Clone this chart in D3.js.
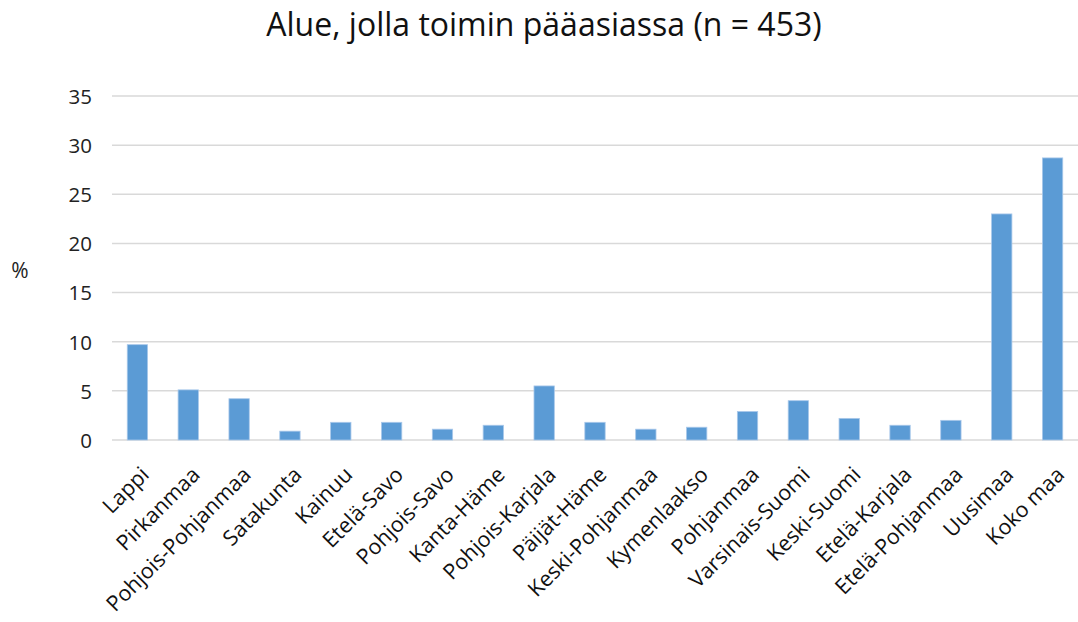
<!DOCTYPE html>
<html>
<head>
<meta charset="utf-8">
<script src="https://cdn.jsdelivr.net/npm/d3@7"></script>
<style>
  html, body { margin: 0; padding: 0; background: #fff; }
  svg { display: block; font-family: "Open Sans", "Noto Sans", sans-serif; }
</style>
</head>
<body>
<svg id="chart" width="1078" height="622"></svg>
<script>
const categories = ["Lappi","Pirkanmaa","Pohjois-Pohjanmaa","Satakunta","Kainuu","Etelä-Savo","Pohjois-Savo","Kanta-Häme","Pohjois-Karjala","Päijät-Häme","Keski-Pohjanmaa","Kymenlaakso","Pohjanmaa","Varsinais-Suomi","Keski-Suomi","Etelä-Karjala","Etelä-Pohjanmaa","Uusimaa","Koko maa"];
const values = [9.7, 5.1, 4.2, 0.9, 1.8, 1.8, 1.1, 1.5, 5.5, 1.8, 1.1, 1.3, 2.9, 4.0, 2.2, 1.5, 2.0, 23.0, 28.7];
const yTicks = [0, 5, 10, 15, 20, 25, 30, 35];
const title = "Alue, jolla toimin pääasiassa (n = 453)";
const yLabel = "%";

const svg = d3.select("#chart");
const plotLeft = 112, plotRight = 1078, plotTop = 96, plotBottom = 440;

const x = d3.scaleBand().domain(categories).range([plotLeft, plotRight]).paddingInner(0.6).paddingOuter(0.3);
const y = d3.scaleLinear().domain([0, 35]).range([plotBottom, plotTop]);

// gridlines
svg.append("g").selectAll("line").data(yTicks).join("line")
  .attr("x1", plotLeft).attr("x2", plotRight)
  .attr("y1", d => y(d)).attr("y2", d => y(d))
  .attr("stroke", "#d9d9d9").attr("stroke-width", 1.5);

// y axis labels
const yAxis = d3.axisLeft(y).tickValues(yTicks).tickSize(0).tickPadding(0);
const gy = svg.append("g").attr("transform", `translate(${plotLeft - 20},0)`).call(yAxis);
gy.select(".domain").remove();
gy.selectAll("text").attr("font-size", 20.5).attr("fill", "#222")
  .attr("font-family", "Open Sans, sans-serif").attr("dy", "0.36em");

// bars
svg.append("g").selectAll("rect").data(values).join("rect")
  .attr("x", (d, i) => x(categories[i]))
  .attr("width", x.bandwidth())
  .attr("y", d => y(d))
  .attr("height", d => y(0) - y(d))
  .attr("fill", "#5b9bd5")
  .attr("stroke", "#a9c8ea").attr("stroke-width", 0.8);

// x axis labels
const xAxis = d3.axisBottom(x).tickSize(0).tickPadding(0);
const gx = svg.append("g").attr("transform", `translate(0,${plotBottom})`).call(xAxis);
gx.select(".domain").remove();
gx.selectAll("text")
  .attr("font-size", 21.5).attr("fill", "#111")
  .attr("font-family", "Open Sans, sans-serif")
  .attr("text-anchor", "end")
  .attr("dy", 0)
  .attr("transform", "translate(13,36) rotate(-45)");

// y label
svg.append("text").attr("x", 20).attr("y", 278).attr("text-anchor", "middle")
  .attr("font-size", 21).attr("fill", "#222").text(yLabel);

// title
svg.append("text").attr("x", 544).attr("y", 36).attr("text-anchor", "middle")
  .attr("font-size", 32).attr("fill", "#111").text(title);
</script>
</body>
</html>
